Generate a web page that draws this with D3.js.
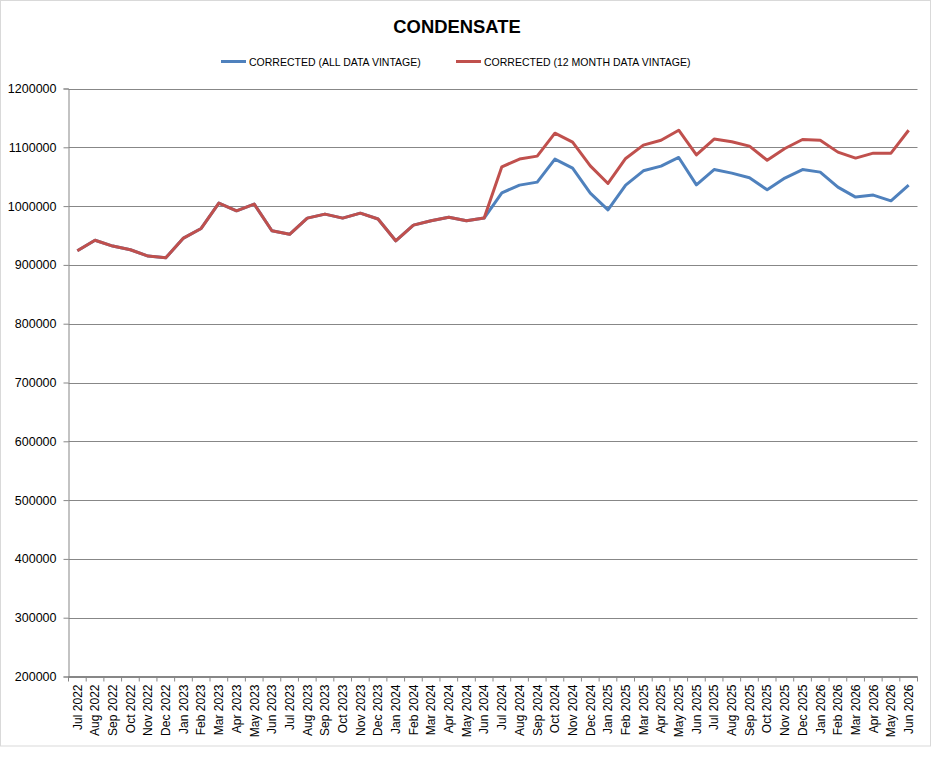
<!DOCTYPE html>
<html>
<head>
<meta charset="utf-8">
<script src="https://cdn.jsdelivr.net/npm/d3@7"></script>
<style>
  body { margin: 0; background: #fff; }
</style>
</head>
<body>
<div id="chart"></div>
<script>
const months = ["Jul 2022","Aug 2022","Sep 2022","Oct 2022","Nov 2022","Dec 2022",
  "Jan 2023","Feb 2023","Mar 2023","Apr 2023","May 2023","Jun 2023",
  "Jul 2023","Aug 2023","Sep 2023","Oct 2023","Nov 2023","Dec 2023",
  "Jan 2024","Feb 2024","Mar 2024","Apr 2024","May 2024","Jun 2024",
  "Jul 2024","Aug 2024","Sep 2024","Oct 2024","Nov 2024","Dec 2024",
  "Jan 2025","Feb 2025","Mar 2025","Apr 2025","May 2025","Jun 2025",
  "Jul 2025","Aug 2025","Sep 2025","Oct 2025","Nov 2025","Dec 2025",
  "Jan 2026","Feb 2026","Mar 2026","Apr 2026","May 2026","Jun 2026"];

const allVintage = [924000, 942000, 932000, 925700, 915000, 912000,
  945600, 962000, 1005000, 992000, 1003400, 958000,
  952000, 979600, 986400, 979600, 988000, 978000,
  941000, 967700, 975000, 981000, 975000, 979600,
  1022600, 1035700, 1040800, 1080000, 1064600, 1022100,
  993700, 1035700, 1060000, 1068000, 1082700, 1036200,
  1062200, 1056100, 1048100, 1027700, 1047600, 1062200,
  1057800, 1032300, 1015300, 1018700, 1009000, 1035700];

const month12Vintage = [924000, 942000, 932000, 925700, 915000, 912000,
  945600, 962000, 1005000, 992000, 1003400, 958000,
  952000, 979600, 986400, 979600, 988000, 978000,
  941000, 967700, 975000, 981000, 975000, 979600,
  1066800, 1080000, 1085000, 1124000, 1108800, 1068500,
  1038500, 1081000, 1103700, 1112000, 1129000, 1087000,
  1114000, 1109300, 1102000, 1078000, 1098000, 1113300,
  1112000, 1091800, 1081600, 1090000, 1090000, 1129000];

const seriesNames = ["CORRECTED (ALL DATA VINTAGE)", "CORRECTED (12 MONTH DATA VINTAGE)"];
const yTicks = [200000, 300000, 400000, 500000, 600000, 700000, 800000, 900000, 1000000, 1100000, 1200000];

const width = 932, height = 770;
const plot = {left: 68.5, right: 917.5, top: 88.5, bottom: 676.5};
const font = "'Liberation Sans', Arial, sans-serif";
const gridColor = "#878787";
const colors = ["#4F81BD", "#C0504D"];

const svg = d3.select("#chart").append("svg")
  .attr("width", width)
  .attr("height", height);

// outer chart border
svg.append("rect")
  .attr("x", 0.5).attr("y", 0.5)
  .attr("width", 930).attr("height", 745.5)
  .attr("fill", "#fff")
  .attr("stroke", "#d9d9d9");

const x = d3.scaleBand()
  .domain(months)
  .range([plot.left, plot.right]);

const y = d3.scaleLinear()
  .domain([200000, 1200000])
  .range([plot.bottom, plot.top]);

// gridlines
svg.append("g")
  .selectAll("line")
  .data(yTicks)
  .join("line")
  .attr("x1", plot.left)
  .attr("x2", plot.right)
  .attr("y1", d => Math.round(y(d)) + 0.5)
  .attr("y2", d => Math.round(y(d)) + 0.5)
  .attr("stroke", gridColor)
  .attr("stroke-width", 1);

// y axis
const yAxis = d3.axisLeft(y)
  .tickValues(yTicks)
  .tickFormat(d3.format("d"))
  .tickSize(5)
  .tickPadding(7);

svg.append("g")
  .attr("transform", `translate(${plot.left},0)`)
  .call(yAxis)
  .call(g => g.select(".domain").attr("stroke", gridColor))
  .call(g => g.selectAll(".tick line").attr("stroke", gridColor))
  .call(g => g.selectAll(".tick text")
    .attr("font-family", font)
    .attr("font-size", "12.5px")
    .attr("fill", "#000"));

// x axis
const xAxis = d3.axisBottom(x)
  .tickSize(0);

const gx = svg.append("g")
  .attr("transform", `translate(0,${plot.bottom})`)
  .call(xAxis)
  .call(g => g.select(".domain").attr("stroke", gridColor).attr("d", `M${plot.left},0H${plot.right}`));

gx.selectAll(".tick text")
  .attr("font-family", font)
  .attr("font-size", "12px")
  .attr("fill", "#000")
  .attr("text-anchor", "end")
  .attr("transform", "rotate(-90)")
  .attr("x", -8)
  .attr("y", 0)
  .attr("dy", "0.36em");

// category boundary ticks
svg.append("g")
  .selectAll("line")
  .data(months.concat(["end"]))
  .join("line")
  .attr("x1", (d, i) => plot.left + i * x.step())
  .attr("x2", (d, i) => plot.left + i * x.step())
  .attr("y1", plot.bottom)
  .attr("y2", plot.bottom + 5)
  .attr("stroke", gridColor);

// lines
const line = d3.line()
  .x((d, i) => x(months[i]) + x.bandwidth() / 2)
  .y(d => y(d));

[allVintage, month12Vintage].forEach((s, k) => {
  svg.append("path")
    .datum(s)
    .attr("fill", "none")
    .attr("stroke", colors[k])
    .attr("stroke-width", 3)
    .attr("stroke-linejoin", "round")
    .attr("d", line);
});

// title
svg.append("text")
  .attr("x", 457)
  .attr("y", 33)
  .attr("text-anchor", "middle")
  .attr("font-family", font)
  .attr("font-weight", "bold")
  .attr("font-size", "18.4px")
  .text("CONDENSATE");

// legend
const legendX = [221, 456];
const legend = svg.append("g");
seriesNames.forEach((name, k) => {
  legend.append("line")
    .attr("x1", legendX[k]).attr("x2", legendX[k] + 25)
    .attr("y1", 61.5).attr("y2", 61.5)
    .attr("stroke", colors[k])
    .attr("stroke-width", 3);
  legend.append("text")
    .attr("x", legendX[k] + 28)
    .attr("y", 65.5)
    .attr("font-family", font)
    .attr("font-size", "10.5px")
    .attr("fill", "#000")
    .text(name);
});
</script>
</body>
</html>
